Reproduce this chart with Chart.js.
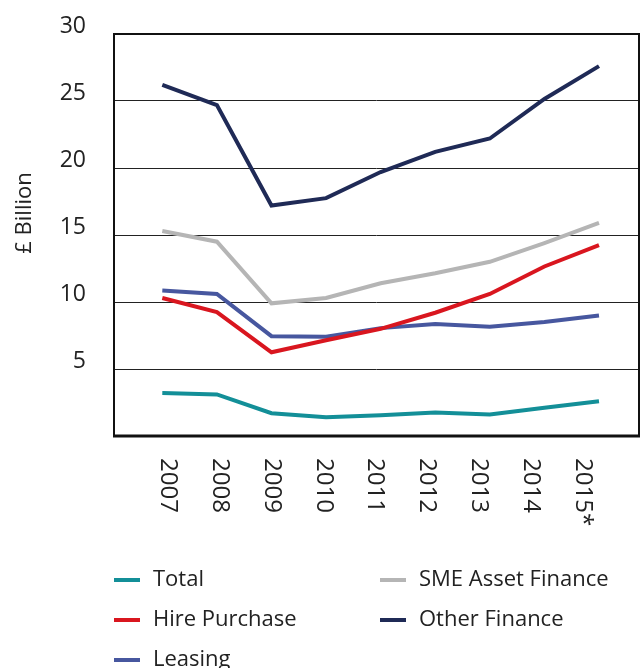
<!DOCTYPE html>
<html>
<head>
<meta charset="utf-8">
<script src="https://cdn.jsdelivr.net/npm/chart.js@4.4.1/dist/chart.umd.min.js"></script>
<style>
  html, body { margin: 0; padding: 0; background: #fff; }
  #wrap { position: relative; width: 642px; height: 668px; overflow: hidden; }
  #legend {
    position: absolute; left: 114px; top: 557px;
    display: grid; grid-template-columns: 266px auto;
    font: 22px "Open Sans", sans-serif; color: #222;
  }
  #legend .item { height: 40px; line-height: 40px; white-space: nowrap; }
  #legend .swatch {
    display: inline-block; width: 26px; height: 4px;
    margin-right: 13px; vertical-align: middle;
  }
</style>
</head>
<body>
<div id="wrap">
  <canvas id="financeChart" width="642" height="668"></canvas>
  <div id="legend"></div>
</div>
<script>
  const years = ["2007", "2008", "2009", "2010", "2011", "2012", "2013", "2014", "2015*"];
  const yTicks = [0, 5, 10, 15, 20, 25, 30];

  const total        = [3.2, 3.1, 1.7, 1.4, 1.55, 1.75, 1.6, 2.1, 2.6];
  const smeAsset     = [15.3, 14.5, 9.9, 10.3, 11.4, 12.15, 13.0, 14.4, 15.9];
  const hirePurchase = [10.3, 9.25, 6.25, 7.15, 8.0, 9.2, 10.6, 12.65, 14.25];
  const otherFinance = [26.2, 24.7, 17.2, 17.75, 19.7, 21.2, 22.2, 25.15, 27.6];
  const leasing      = [10.85, 10.6, 7.45, 7.4, 8.05, 8.35, 8.15, 8.5, 9.0];

  const font = '"Open Sans", sans-serif';
  const toPoints = (arr) => arr.map((v, i) => ({ x: i, y: v }));

  // Frame around the plot area
  const frame = {
    id: "frame",
    beforeDatasetsDraw(chart) {
      const { ctx, chartArea: a } = chart;
      ctx.save();
      ctx.strokeStyle = "#111";
      ctx.lineWidth = 2;
      ctx.strokeRect(a.left, a.top, a.width, a.height);
      ctx.lineWidth = 3;
      ctx.beginPath();
      ctx.moveTo(a.left - 1, a.bottom);
      ctx.lineTo(a.right + 1, a.bottom);
      ctx.stroke();
      ctx.restore();
    },
  };

  // Vertical year labels (reading downward) and the y-axis title
  const axisText = {
    id: "axisText",
    afterDraw(chart) {
      const { ctx, chartArea } = chart;
      const xs = chart.scales.xLab;
      ctx.save();
      ctx.font = "24px " + font;
      ctx.fillStyle = "#222";
      ctx.textAlign = "left";
      ctx.textBaseline = "middle";
      years.forEach((label, i) => {
        ctx.save();
        ctx.translate(xs.getPixelForValue(i), chartArea.bottom + 22);
        ctx.rotate(Math.PI / 2);
        ctx.fillText(label, 0, 0);
        ctx.restore();
      });
      ctx.font = "22px " + font;
      ctx.textAlign = "center";
      ctx.translate(25, 213);
      ctx.rotate(-Math.PI / 2);
      ctx.fillText("£ Billion", 0, 0);
      ctx.restore();
    },
  };

  const ctx = document.getElementById("financeChart").getContext("2d");
  const chart = new Chart(ctx, {
    type: "line",
    data: {
      datasets: [
        { label: "Total", data: toPoints(total), borderColor: "#138f98" },
        { label: "SME Asset Finance", data: toPoints(smeAsset), borderColor: "#b5b5b5" },
        { label: "Hire Purchase", data: toPoints(hirePurchase), borderColor: "#d9161f" },
        { label: "Other Finance", data: toPoints(otherFinance), borderColor: "#1f2a56" },
        { label: "Leasing", data: toPoints(leasing), borderColor: "#47579f" },
      ],
    },
    options: {
      responsive: false,
      animation: false,
      events: [],
      layout: { padding: { left: 0, top: 34, right: 3, bottom: 232 } },
      elements: {
        line: { borderWidth: 4, tension: 0, borderCapStyle: "butt" },
        point: { radius: 0 },
      },
      scales: {
        x: { type: "linear", min: -0.885, max: 8.733, display: false },
        xLab: { type: "linear", min: -1.038, max: 9.088, display: false },
        y: {
          min: yTicks[0],
          max: yTicks[yTicks.length - 1],
          afterFit: (scale) => {
            scale.width = 114;
            scale.paddingTop = 0;
            scale.paddingBottom = 0;
          },
          afterBuildTicks: (scale) => { scale.ticks = yTicks.map((v) => ({ value: v })); },
          border: { display: false },
          grid: { color: "#222", lineWidth: 1, drawTicks: false },
          ticks: {
            padding: 28,
            labelOffset: -8,
            color: "#222",
            font: { size: 23, family: font },
            callback: (v) => (v === 0 ? "" : v),
          },
        },
      },
      plugins: { legend: { display: false }, tooltip: { enabled: false } },
    },
    plugins: [frame, axisText],
  });

  // Two-column legend built from the datasets
  const legendEl = document.getElementById("legend");
  chart.data.datasets.forEach((ds) => {
    const item = document.createElement("div");
    item.className = "item";
    const sw = document.createElement("span");
    sw.className = "swatch";
    sw.style.background = ds.borderColor;
    item.appendChild(sw);
    item.appendChild(document.createTextNode(ds.label));
    legendEl.appendChild(item);
  });
</script>
</body>
</html>
